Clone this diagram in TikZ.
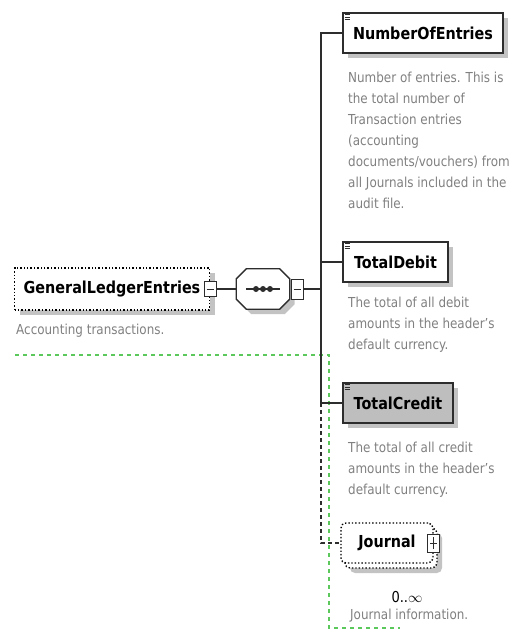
\documentclass[tikz,border=0pt]{standalone}
\usepackage{fontspec}
\setmainfont{DejaVu Sans}[FakeStretch=0.87]
\usetikzlibrary{shadows}
\definecolor{descgray}{RGB}{128,128,128}
\definecolor{linkgray}{RGB}{45,45,45}
\definecolor{hintgreen}{RGB}{90,200,90}
\definecolor{shadowgray}{RGB}{195,195,195}
\definecolor{optgray}{RGB}{190,190,190}
\tikzset{
    shadowed/.style={drop shadow={shadow xshift=5pt, shadow yshift=-5pt, fill=shadowgray, opacity=1}},
    % Element styles
    element/.style={draw=linkgray, line width=1.6pt, fill=white, minimum height=40pt, inner sep=0pt,
        font=\fontsize{16.5}{20}\selectfont\bfseries, shadowed},
    filled/.style={element, fill=optgray},
    optional/.style={draw=black, line width=1.4pt, dotted, fill=white, minimum height=42pt, inner sep=0pt,
        font=\fontsize{16.5}{20}\selectfont\bfseries},
    desc/.style={text=descgray, align=left, inner sep=0pt, anchor=north west, font=\fontsize{13.75}{21}\selectfont},
    occurs/.style={inner sep=0pt, font=\fontsize{15}{16}\selectfont},
    icon/.style={draw=linkgray, line width=0.8pt},
    % Compositor styles
    seqframe/.style={draw=linkgray, line width=1.3pt, fill=white, shadowed},
    toggle/.style={draw=linkgray, line width=1pt, fill=white, minimum width=12pt, minimum height=15pt, inner sep=0pt},
    minus/.style={toggle, path picture={
        \draw[line width=1pt] ([xshift=2.5pt]path picture bounding box.west) -- ([xshift=-2.5pt]path picture bounding box.east);}},
    plus/.style={toggle, path picture={
        \draw[line width=1pt] ([xshift=2.5pt]path picture bounding box.west) -- ([xshift=-2.5pt]path picture bounding box.east);
        \draw[line width=1pt] ([yshift=3pt]path picture bounding box.south) -- ([yshift=-3pt]path picture bounding box.north);}},
    % Connector styles
    link/.style={draw=linkgray, line width=1.5pt},
    optlink/.style={link, dash pattern=on 4pt off 3pt},
    hint/.style={draw=hintgreen, line width=1.3pt, dash pattern=on 4pt off 4pt}
}

\begin{document}
\begin{tikzpicture}[x=1pt, y=-1pt]
\useasboundingbox (0,0) rectangle (515,635);

% Hint frame
\coordinate (hintA) at (15,355);
\coordinate (hintB) at (329,628);
\coordinate (hintC) at (400,628);
\draw[hint] (hintA) -| (hintB) -- (hintC);

% Root element
\node[optional, shadowed, minimum width=195pt] (gle) at (112,289) {GeneralLedgerEntries};
\node[minus] (gletog) at (gle.east) {};
\node[desc] (gledesc) at (16,323.5) {Accounting transactions.};

% Sequence
\node[minimum width=53pt, minimum height=40pt, inner sep=0pt] (seq) at (263,289) {};
\filldraw[seqframe] ([xshift=10pt]seq.north west) -- ([xshift=-10pt]seq.north east)
    -- ([yshift=-10pt]seq.north east) -- ([yshift=10pt]seq.south east)
    -- ([xshift=-10pt]seq.south east) -- ([xshift=10pt]seq.south west)
    -- ([yshift=10pt]seq.south west) -- ([yshift=-10pt]seq.north west) -- cycle;
\draw[linkgray, line width=1.3pt] ([xshift=-17pt]seq.center) -- ([xshift=17pt]seq.center);
\foreach \dx in {-7,0,7} {
    \fill[linkgray] ([xshift=\dx pt]seq.center) circle (3pt);
}
\node[minus, minimum height=20pt] (seqtog) at (297,289) {};
\coordinate (fork) at (321,289);
\draw[link] (gletog) -- (seq);
\draw[link] (seqtog) -- (fork);

% Child elements
\node[element, minimum width=160pt] (noe) at (423,33) {NumberOfEntries};
\node[element, minimum width=105pt] (debit) at (395.5,262) {TotalDebit};
\node[filled, minimum width=110pt] (credit) at (398,403) {TotalCredit};
\foreach \e in {noe,debit,credit} {
    \draw[icon, shift={(\e.north west)}] (2.5,2.5) -- (7.5,2.5) (2.5,5) -- (7.5,5) (2.5,7.5) -- (7.5,7.5);
}

% Descriptions
\node[desc] (noedesc) at (348,71.5) {Number of entries. This is\\the total number of\\Transaction entries\\(accounting\\documents/vouchers) from\\all Journals included in the\\audit file.};
\node[desc] (debitdesc) at (348,296.5) {The total of all debit\\amounts in the header's\\default currency.};
\node[desc] (creditdesc) at (348,441.5) {The total of all credit\\amounts in the header's\\default currency.};

% Journal (repeated)
\node[optional, shadowed, rounded corners=5pt, minimum width=92pt, minimum height=40pt] (journalback) at (391,548) {};
\node[optional, rounded corners=5pt, minimum width=92pt, minimum height=40pt] (journal) at (387,543) {Journal};
\node[plus, minimum height=18pt] (journaltog) at (journal.east) {};
\node[occurs] (journalocc) at (407,597) {0..$\infty$};
\node[desc] (journaldesc) at (350,608.5) {Journal information.};

% Connections to the children
\draw[link] (noe.west) -| (fork) |- (credit.west);
\draw[link] (debit.west) -- (debit.west -| fork);
\draw[optlink] (credit.west -| fork) |- (journal.west);
\end{tikzpicture}
\end{document}
